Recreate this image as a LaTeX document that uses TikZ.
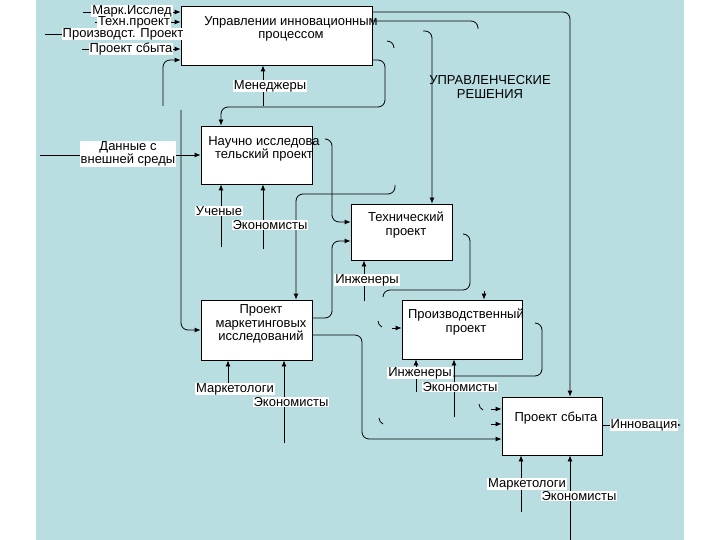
\documentclass[tikz,border=0pt]{standalone}
\usepackage{fontspec}
\setmainfont{Liberation Sans}
\usetikzlibrary{arrows.meta}
\definecolor{fonblue}{RGB}{184,222,226}

\begin{document}
\begin{tikzpicture}[x=1pt,y=-1pt,
  font=\fontsize{13}{13.5}\selectfont,
  blok/.style={draw, fill=white, line width=0.8pt, inner sep=0pt},
  ttl/.style={align=center, inner sep=0pt},
  metka/.style={fill=white, inner xsep=1pt, inner ysep=0pt, align=center},
  liniya/.style={line width=0.8pt},
  sv/.style={liniya, -{Latex[length=6pt,width=5pt]}},
  fr/.style={liniya, rounded corners=7pt}]

\useasboundingbox (0,0) rectangle (720,540);
\fill[fonblue] (36,0) rectangle (684,540);

% blocks
\node[blok, minimum width=191pt, minimum height=59pt] (upr) at (276.5,35.5) {};
\node[blok, minimum width=111pt, minimum height=58pt] (nir) at (256.5,155) {};
\node[blok, minimum width=101pt, minimum height=56pt] (teh) at (401.5,232) {};
\node[blok, minimum width=111pt, minimum height=60pt] (mark) at (256.5,330) {};
\node[blok, minimum width=120pt, minimum height=59pt] (proizv) at (462,329.5) {};
\node[blok, minimum width=100pt, minimum height=58pt] (sbyt) at (552,426) {};

% inputs of the management block
\draw[sv] (83,12) -- (upr.west |- 0,12);
\draw[sv] (95,22) -- (upr.west |- 0,22);
\draw[sv] (45,34) -- (upr.west |- 0,34);
\draw[sv] (82,49) -- (upr.west |- 0,49);
\draw[sv, fr] (163,106) -- (163,60) -- (upr.west |- 0,60);
\draw[sv] (263,106) -- (263,0 |- upr.south);

% management decisions
\draw[sv, fr] (upr.east |- 0,12) -- (570,12) -- (570,0 |- sbyt.north);
\draw[fr] (upr.east |- 0,21) -- (478,21) -- (478,29);
\draw[sv, fr] (423,31) -- (432,31) -- (432,0 |- teh.north);
\draw[fr] (387,41) -- (394,41) -- (394,48);
\draw[sv, fr] (upr.east |- 0,60) -- (385,60) -- (385,107) -- (221,107) -- (221,0 |- nir.north);

% research block
\draw[sv] (40,155) -- (nir.west |- 0,155);
\draw[sv] (221,247) -- (221,0 |- nir.south);
\draw[sv] (263,249) -- (263,0 |- nir.south);
\draw[sv, fr] (326,139) -- (332,139) -- (332,222) -- (teh.west |- 0,222);

% technical block
\draw[sv, fr] (mark.east |- 0,318) -- (332,318) -- (332,241) -- (teh.west |- 0,241);
\draw[sv] (364,301) -- (364,0 |- teh.south);
\draw[fr] (463,234) -- (470,234) -- (470,290) -- (383,290) -- (383,297);

% marketing block
\draw[sv, fr] (181,110) -- (181,330) -- (mark.west |- 0,330);
\draw[sv, fr] (395,185) -- (395,194) -- (296,194) -- (296,0 |- mark.north);
\draw[sv] (228,383) -- (228,0 |- mark.south);
\draw[sv] (284,443) -- (284,0 |- mark.south);

% production block
\draw[sv] (484,291) -- (484,0 |- proizv.north);
\draw[liniya] (378,321) to[bend right] (382,327);
\draw[sv] (392,328) -- (proizv.west |- 0,328);
\draw[sv] (416,392) -- (416,0 |- proizv.south);
\draw[sv] (454,417) -- (454,0 |- proizv.south);
\draw[fr] (536,323) -- (542,323) -- (542,376) -- (453,376);

% sales block
\draw[sv, fr] (mark.east |- 0,335) -- (362,335) -- (362,439) -- (sbyt.west |- 0,439);
\draw[liniya] (479,404) to[bend right] (483,410);
\draw[liniya] (379,418) to[bend right] (383,424);
\draw[sv] (491,409) -- (sbyt.west |- 0,409);
\draw[sv] (491,424) -- (sbyt.west |- 0,424);
\draw[sv] (521,512) -- (521,0 |- sbyt.south);
\draw[sv] (570,540) -- (570,0 |- sbyt.south);
\draw[sv] (sbyt.east |- 0,425) -- (681,425);

% texts of the blocks
\node[ttl] (uprT) at (291,29) {Управлении инновационным\\процессом};
\node[ttl] (nirT) at (264,149) {Научно исследова\\тельский проект};
\node[ttl] (tehT) at (406,225) {Технический\\проект};
\node[ttl] (markT) at (261,324) {Проект\\маркетинговых\\исследований};
\node[ttl] (proizvT) at (466,322) {Производственный\\проект};
\node[ttl] (sbytT) at (556,418) {Проект сбыта};
\node[ttl] (reshT) at (490,87) {УПРАВЛЕНЧЕСКИЕ\\РЕШЕНИЯ};

% labels
\node[metka] (lMark) at (132,11) {Марк.Исслед};
\node[metka] (lTeh) at (134,22.5) {Техн.проект};
\node[metka] (lProizv) at (123,34) {Производст. Проект};
\node[metka] (lSbyt) at (131,49) {Проект сбыта};
\node[metka] (lMen) at (270,86) {Менеджеры};
\node[metka] (lDan) at (128,154) {Данные с\\внешней среды};
\node[metka] (lUch) at (219,211) {Ученые};
\node[metka] (lEk1) at (270,225) {Экономисты};
\node[metka] (lInzh1) at (367,280) {Инженеры};
\node[metka] (lMrk1) at (235,389) {Маркетологи};
\node[metka] (lEk2) at (291,402) {Экономисты};
\node[metka] (lInzh2) at (420,373) {Инженеры};
\node[metka] (lEk3) at (460,387) {Экономисты};
\node[metka] (lMrk2) at (527,484) {Маркетологи};
\node[metka] (lEk4) at (579,496) {Экономисты};
\node[metka] (lInn) at (644,425) {Инновация};
\end{tikzpicture}
\end{document}
